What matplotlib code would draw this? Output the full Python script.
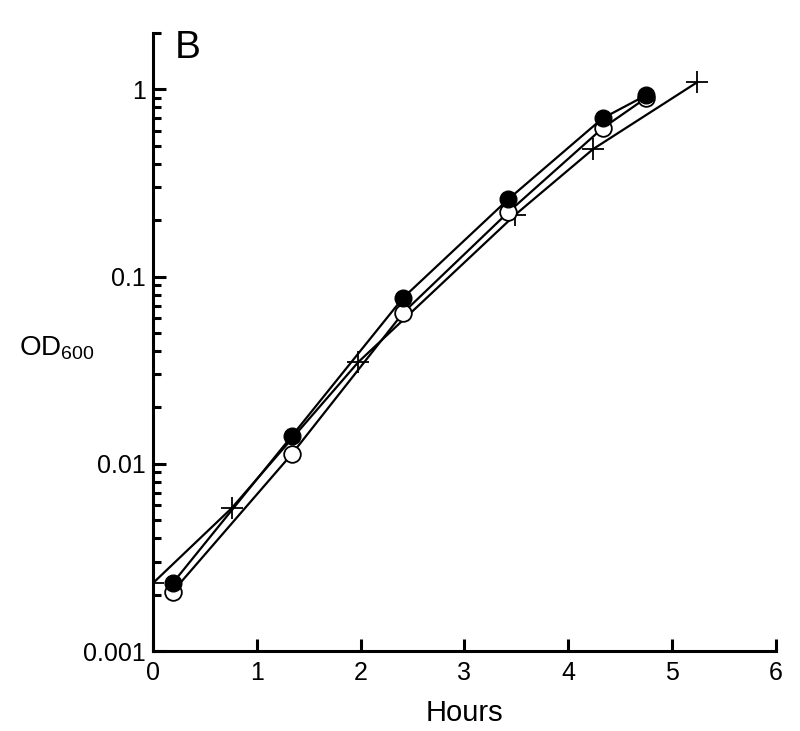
import numpy as np
import matplotlib
matplotlib.use("Agg")
import matplotlib.pyplot as plt
from matplotlib.ticker import LogLocator, FixedLocator, NullFormatter

plt.rcParams["font.family"] = ["Liberation Sans", "DejaVu Sans"]

# growth curves, OD600 vs hours
t_circ = [0.19, 1.34, 2.41, 3.42, 4.33, 4.75]
od_filled = [0.0023, 0.0141, 0.077, 0.258, 0.70, 0.93]
od_open = [0.00207, 0.0113, 0.064, 0.22, 0.62, 0.90]
t_plus = [0.0, 0.76, 1.98, 3.49, 4.24, 5.24]
od_plus = [0.0023, 0.0058, 0.035, 0.214, 0.48, 1.09]

fig = plt.figure(figsize=(8.0, 7.31), dpi=100)
ax = fig.add_axes([0.191, 0.1094, 0.779, 0.8455])

ax.plot(t_plus, od_plus, color="black", lw=1.6, marker="+", ms=16, mew=1.3, zorder=2)
ax.plot(t_circ, od_open, color="black", lw=1.6, marker="o", ms=12, mfc="white",
        mec="black", mew=1.3, zorder=3)
ax.plot(t_circ, od_filled, color="black", lw=1.6, marker="o", ms=12, mfc="black",
        mec="black", zorder=4)

ax.set_yscale("log")
ax.set_xlim(0, 6)
ax.set_ylim(0.001, 2)
ax.set_xticks(range(0, 7))
ax.yaxis.set_major_locator(FixedLocator([0.001, 0.01, 0.1, 1]))
ax.set_yticklabels(["0.001", "0.01", "0.1", "1"])
ax.yaxis.set_minor_locator(LogLocator(base=10, subs=np.arange(2, 10)))
ax.yaxis.set_minor_formatter(NullFormatter())

for s in ["top", "right"]:
    ax.spines[s].set_visible(False)
for s in ["left", "bottom"]:
    ax.spines[s].set_linewidth(2.2)

ax.tick_params(axis="both", which="major", direction="in", length=9, width=2.2,
               labelsize=18, pad=7)
ax.tick_params(axis="y", which="major", pad=5)
ax.tick_params(axis="y", which="minor", direction="in", length=6, width=2.2)

ax.set_xlabel("Hours", fontsize=21, labelpad=10)
ax.set_ylabel(r"$\mathregular{OD_{600}}$", fontsize=20, rotation=0, ha="left", va="center")
ax.yaxis.set_label_coords(-0.215, 0.49)

ax.text(0.035, 1.005, "B", transform=ax.transAxes, fontsize=28, ha="left", va="top")

fig.savefig("out.png", dpi=100)
